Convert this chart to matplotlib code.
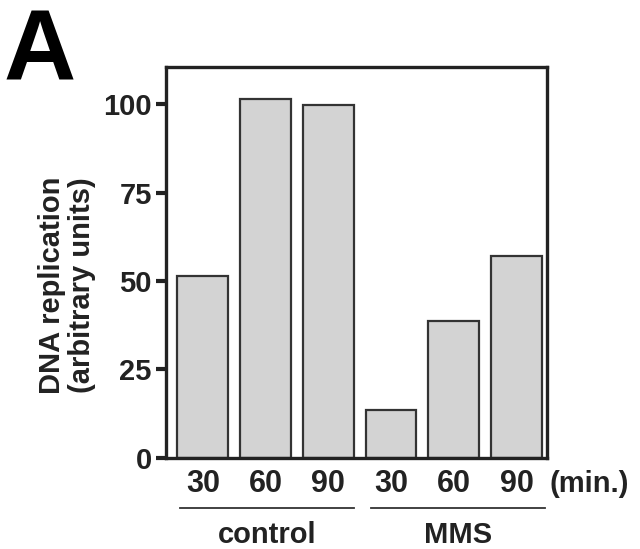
import matplotlib
matplotlib.use("Agg")
import matplotlib.pyplot as plt
import matplotlib.transforms as mtransforms

# values
time_labels = ["30", "60", "90", "30", "60", "90"]
replication = [51.4, 101.4, 99.7, 13.6, 38.7, 57.0]
groups = ["control", "MMS"]
group_spans = [(-0.37, 2.41), (2.68, 5.46)]
y_ticks = [0, 25, 50, 75, 100]

plt.rcParams['font.family'] = ['Liberation Sans', 'DejaVu Sans']
plt.rcParams['font.weight'] = 'bold'

fig = plt.figure(figsize=(6.4, 5.49), dpi=100)
ax = fig.add_axes([0.259, 0.166, 0.595, 0.712])

x = list(range(len(replication)))
ax.bar(x, replication, width=0.81, color='#d3d3d3', edgecolor='#333333', linewidth=1.6, zorder=2)

ax.set_xlim(-0.59, 5.48)
ax.set_ylim(0, 110.5)
ax.set_yticks(y_ticks)
ax.set_yticklabels([str(v) for v in y_ticks], fontsize=21, fontweight='bold', color='#222222')
ax.set_xticks(x)
ax.set_xticklabels(time_labels, fontsize=22, fontweight='bold', color='#222222')
ax.tick_params(axis='y', direction='out', length=7, width=3, pad=3, color='#222222')
ax.tick_params(axis='x', length=0, pad=8)
for sp in ax.spines.values():
    sp.set_linewidth(2.4)
    sp.set_color('#222222')

ax.text(1.113, -0.066, "(min.)", transform=ax.transAxes, ha='center', va='center',
        fontsize=21, fontweight='bold', color='#222222')

trans = mtransforms.blended_transform_factory(ax.transData, ax.transAxes)
for name, (x0, x1) in zip(groups, group_spans):
    ax.plot([x0, x1], [-0.128, -0.128], transform=trans, color='#333333', linewidth=1.3, clip_on=False)
    ax.text((x0 + x1) / 2, -0.197, name, transform=trans, ha='center', va='center',
            fontsize=21, fontweight='bold', color='#222222')

fig.text(67 / 640, 1 - 285 / 549, "DNA replication\n(arbitrary units)", rotation=90,
         ha='center', va='center', fontsize=21, fontweight='bold', color='#222222',
         linespacing=1.1)

fig.text(4 / 640, 1 - 80 / 549, "A", ha='left', va='baseline', fontsize=72, fontweight='bold', color='black')

fig.savefig("out.png", dpi=100)
